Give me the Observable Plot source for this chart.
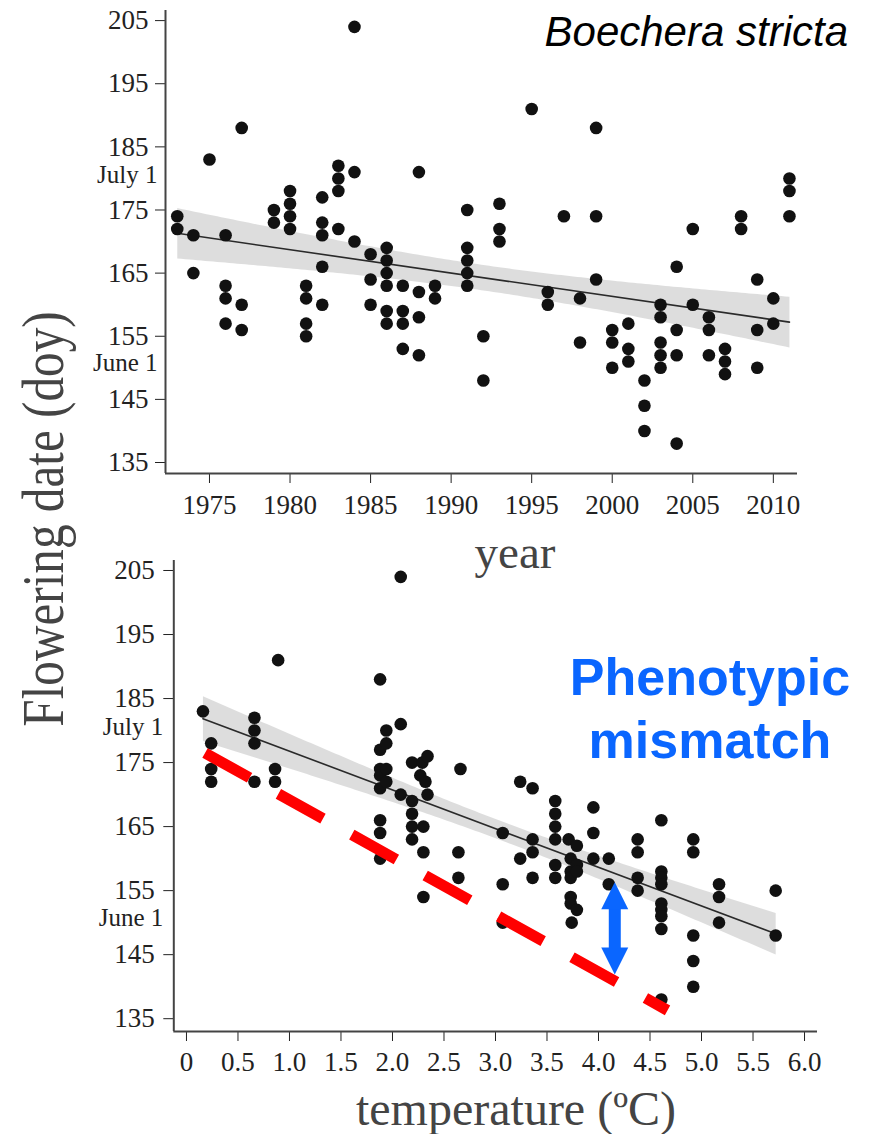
<!DOCTYPE html>
<html><head><meta charset="utf-8">
<script src="https://cdn.jsdelivr.net/npm/d3@7"></script>
<script src="https://cdn.jsdelivr.net/npm/@observablehq/plot@0.6"></script>
<style>
body{margin:0;background:#fff;}
#wrap{position:relative;width:871px;height:1134px;overflow:hidden;background:#fff;}
#top,#bottom{position:absolute;left:0;}
#top{top:0}
#bottom{top:540px}
#overlay{position:absolute;left:0;top:0;pointer-events:none}
.serif{font-family:'Liberation Serif','Times New Roman',serif;fill:#444;}
</style></head><body>
<div id="wrap">
<div id="top"></div>
<div id="bottom"></div>
<svg id="overlay" width="871" height="1134">
  <text class="serif" font-size="60" text-anchor="middle" transform="translate(63,519) rotate(-90) scale(0.82,1)">Flowering date (doy)</text>
  <text class="serif" font-size="47" text-anchor="middle" x="515" y="568">year</text>
  <text class="serif" font-size="48" text-anchor="middle" x="516" y="1125">temperature (ºC)</text>
  <text font-family="'Liberation Sans',Arial,sans-serif" font-style="italic" font-size="42" text-anchor="end" x="848" y="46" fill="#000">Boechera stricta</text>
  <text font-family="'Liberation Sans',Arial,sans-serif" font-weight="bold" font-size="52" text-anchor="middle" x="710" y="695" fill="#0a66ff">Phenotypic</text>
  <text font-family="'Liberation Sans',Arial,sans-serif" font-weight="bold" font-size="52" text-anchor="middle" x="710" y="758" fill="#0a66ff">mismatch</text>
</svg>
</div>
<script>
// ---- Data: flowering date (day of year) by year ----
const yearList = [1973,1974,1975,1976,1977,1979,1980,1981,1982,1983,1984,1985,1986,1987,1988,1989,1991,1992,1993,1995,1996,1997,1998,1999,2000,2001,2002,2003,2004,2005,2006,2007,2008,2009,2010,2011];
const doyByYear = [
  [174,172],[171,165],[183],[171,163,161,157],[188,160,156],[175,173],[178,176,174,172],
  [163,161,157,155],[177,173,171,166,160],[182,180,178,172],[204,181,170],[168,164,160],
  [169,167,165,163,159,157],[163,159,157,153],[181,162,158,152],[163,161],[175,169,167,165,163],
  [155,148],[176,172,170],[191],[162,160],[174],[161,154],[188,174,164],[156,154,150],
  [157,153,151],[148,144,140],[160,158,154,152,150],[166,156,152,138],[172,160],[158,156,152],
  [153,151,149],[174,172],[164,156,150],[161,157],[180,178,174]
];

// ---- Data: flowering date by spring temperature (°C) ----
const tempList = [0.16,0.24,0.66,0.86,0.89,1.88,1.94,2.08,2.19,2.27,2.29,2.30,2.32,2.34,2.64,2.66,3.07,3.24,3.36,3.58,3.71,3.73,3.74,3.79,3.95,4.10,4.38,4.61,4.92,5.17,5.72];
const doyByTemp = [
  [183],[178,174,172],[182,180,178,172],[174,172],[191],[188,177,174,173,171,166,164,160],
  [180,178,174,172],[204,181,170],[175,169,167,165,163],[173],[175],[165,161,154],[172],[176,170],
  [161,157],[174],[164,156,150],[172,160],[171,163,161,157],[169,167,165,163,159,157],[163],
  [160,158,157,154,153],[150],[162,159,158,152],[168,164,160],[160,156],[163,161,157,155],
  [166,158,157,156,153,152,151,149,138],[163,161,148,144,140],[156,154,150],[155,148]
];

// ---- Ticks & labels ----
const yearTicks = [1975,1980,1985,1990,1995,2000,2005,2010];
const tempTicks = [0,0.5,1,1.5,2,2.5,3,3.5,4,4.5,5,5.5,6];
const doyTicks = [135,145,155,165,175,185,195,205];
const dateLabels = ["July 1","June 1"];
const dateLabelDoy = [180.5,150.8];

// ---- Annotations (data units of lower panel) ----
const mismatchT = [0.18, 4.67];
const mismatchDoy = [176.5, 136.3];
const arrowT = [4.158];
const arrowTop = [156.3];
const arrowBottom = [141.9];

// ---- Tables built from arrays ----
const yearData = yearList.flatMap((y,i)=>doyByYear[i].map(d=>({year:y, doy:d})));
const tempData = tempList.flatMap((t,i)=>doyByTemp[i].map(d=>({temp:t, doy:d})));
const dateLabelData = dateLabels.map((l,i)=>({label:l, doy:dateLabelDoy[i]}));
const mismatchData = mismatchT.map((t,i)=>({t, doy:mismatchDoy[i]}));
const arrowData = arrowT.map((t,i)=>({t, top:arrowTop[i], bottom:arrowBottom[i]}));

const BLUE = "#0a66ff";
const headUp = {draw(ctx,size){const r=Math.sqrt(size/Math.PI);ctx.moveTo(0,-r);ctx.lineTo(r,r);ctx.lineTo(-r,r);ctx.closePath();}};
const headDown = {draw(ctx,size){const r=Math.sqrt(size/Math.PI);ctx.moveTo(0,r);ctx.lineTo(r,-r);ctx.lineTo(-r,-r);ctx.closePath();}};

const baseStyle = {fontFamily:"'Liberation Serif','Times New Roman',serif", fontSize:"27px", color:"#222", background:"transparent", overflow:"visible"};

const topX = [1972.27, 2011.5];
const topY = [133.26, 206.6];
const topPlot = Plot.plot({
  width:871, height:540, marginLeft:165, marginRight:74, marginTop:10, marginBottom:67,
  style: baseStyle,
  x:{domain:topX, ticks:yearTicks, tickFormat:d=>String(d), tickSize:10, tickPadding:11, label:null},
  y:{domain:topY, ticks:doyTicks, tickFormat:d=>String(d), tickSize:10, tickPadding:7, label:null},
  marks:[
    Plot.linearRegressionY(yearData,{x:"year", y:"doy", stroke:"#2a2a2a", strokeWidth:1.6, fill:"#cfcfcf", fillOpacity:0.7}),
    Plot.dot(yearData,{x:"year", y:"doy", r:6.3, fill:"#111", stroke:"none"}),
    Plot.ruleX([topX[0]],{stroke:"#444", strokeWidth:2}),
    Plot.ruleY([topY[0]],{stroke:"#444", strokeWidth:2}),
    Plot.text(dateLabelData,{y:"doy", text:"label", frameAnchor:"left", dx:-8, textAnchor:"end", fill:"#222", fontSize:25})
  ]
});
document.getElementById("top").append(topPlot);

const botX = [-0.123, 6.126];
const botY = [133.0, 206.56];
const botPlot = Plot.plot({
  width:871, height:594, marginLeft:173.3, marginRight:54, marginTop:20, marginBottom:103,
  style: baseStyle,
  x:{domain:botX, ticks:tempTicks, tickFormat:d=>d===0?"0":d.toFixed(1), tickSize:10, tickPadding:10, label:null},
  y:{domain:botY, ticks:doyTicks, tickFormat:d=>String(d), tickSize:10, tickPadding:9, label:null},
  marks:[
    Plot.linearRegressionY(tempData,{x:"temp", y:"doy", stroke:"#2a2a2a", strokeWidth:1.6, fill:"#cfcfcf", fillOpacity:0.7}),
    Plot.dot(tempData,{x:"temp", y:"doy", r:6.3, fill:"#111", stroke:"none"}),
    Plot.line(mismatchData,{x:"t", y:"doy", stroke:"#ff0000", strokeWidth:11, strokeDasharray:"51,33", strokeLinecap:"butt"}),
    Plot.ruleX(arrowData,{x:"t", y1:"top", y2:"bottom", stroke:BLUE, strokeWidth:12, insetTop:20, insetBottom:20}),
    Plot.dot(arrowData,{x:"t", y:"top", symbol:headUp, r:13.5, dy:13.5, fill:BLUE, stroke:"none"}),
    Plot.dot(arrowData,{x:"t", y:"bottom", symbol:headDown, r:13.5, dy:-13.5, fill:BLUE, stroke:"none"}),
    Plot.ruleX([botX[0]],{stroke:"#444", strokeWidth:2}),
    Plot.ruleY([botY[0]],{stroke:"#444", strokeWidth:2}),
    Plot.text(dateLabelData,{y:"doy", text:"label", frameAnchor:"left", dx:-10.5, textAnchor:"end", fill:"#222", fontSize:25})
  ]
});
document.getElementById("bottom").append(botPlot);
</script>
</body></html>
